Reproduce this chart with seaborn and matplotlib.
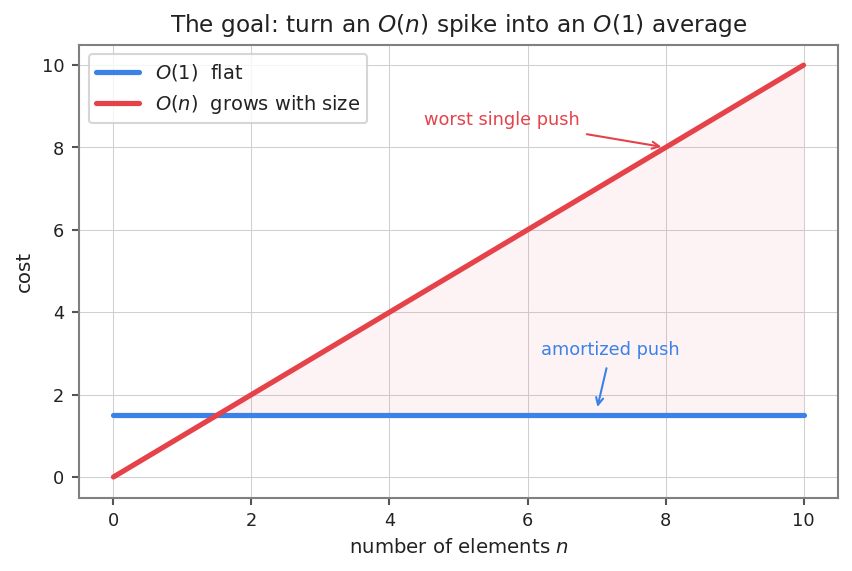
import numpy as np
import pandas as pd
import matplotlib
matplotlib.use("Agg")
import matplotlib.pyplot as plt
import seaborn as sns

n_values = [0, 10]
const_cost = [1.5, 1.5]
linear_cost = [0, 10]
x_ticks = [0, 2, 4, 6, 8, 10]
y_ticks = [0, 2, 4, 6, 8, 10]

sns.set_theme(style="ticks")
plt.rcParams['font.family'] = ['DejaVu Sans']

blue = "#3b82e8"
red = "#e5424a"

fig, ax = plt.subplots(figsize=(5.68, 3.8067), dpi=150)

df = pd.DataFrame({
    "n": n_values * 2,
    "cost": const_cost + linear_cost,
    "kind": [r"$O(1)$  flat"] * 2 + [r"$O(n)$  grows with size"] * 2,
})
sns.lineplot(data=df, x="n", y="cost", hue="kind",
             palette=[blue, red], linewidth=2.5, ax=ax)

xx = np.array([1.5, 10])
ax.fill_between(xx, [1.5, 1.5], xx, color=red, alpha=0.06, linewidth=0)

ax.set_xlim(-0.5, 10.5)
ax.set_ylim(-0.5, 10.5)
ax.set_xticks(x_ticks)
ax.set_yticks(y_ticks)
ax.grid(True, color="#d0d0d0", linewidth=0.5)
for s in ax.spines.values():
    s.set_color("#808080")
    s.set_linewidth(1.0)
ax.tick_params(labelsize=8.5, length=3.5, width=1.0, color="#555555",
               labelcolor="#222222")

ax.set_xlabel(r"number of elements $n$", fontsize=9.5, color="#222222")
ax.set_ylabel("cost", fontsize=9.5, color="#222222")
ax.set_title(r"The goal: turn an $O(n)$ spike into an $O(1)$ average",
             fontsize=11.2, color="#222222")

ax.annotate("worst single push", xy=(8, 8), xytext=(4.5, 8.55),
            color=red, fontsize=8.5,
            arrowprops=dict(arrowstyle="->", color=red, lw=1.0))
ax.annotate("amortized push", xy=(7, 1.6), xytext=(6.2, 2.95),
            color=blue, fontsize=8.5,
            arrowprops=dict(arrowstyle="->", color=blue, lw=1.0))

leg = ax.legend(loc="upper left", fontsize=9.3, frameon=True, handlelength=2.2)
leg.get_frame().set_edgecolor("#cccccc")
for line in leg.get_lines():
    line.set_linewidth(2.5)
for t in leg.get_texts():
    t.set_color("#222222")

fig.subplots_adjust(left=0.0927, right=0.9836, top=0.922, bottom=0.1286)
fig.savefig("out.png", dpi=150)
